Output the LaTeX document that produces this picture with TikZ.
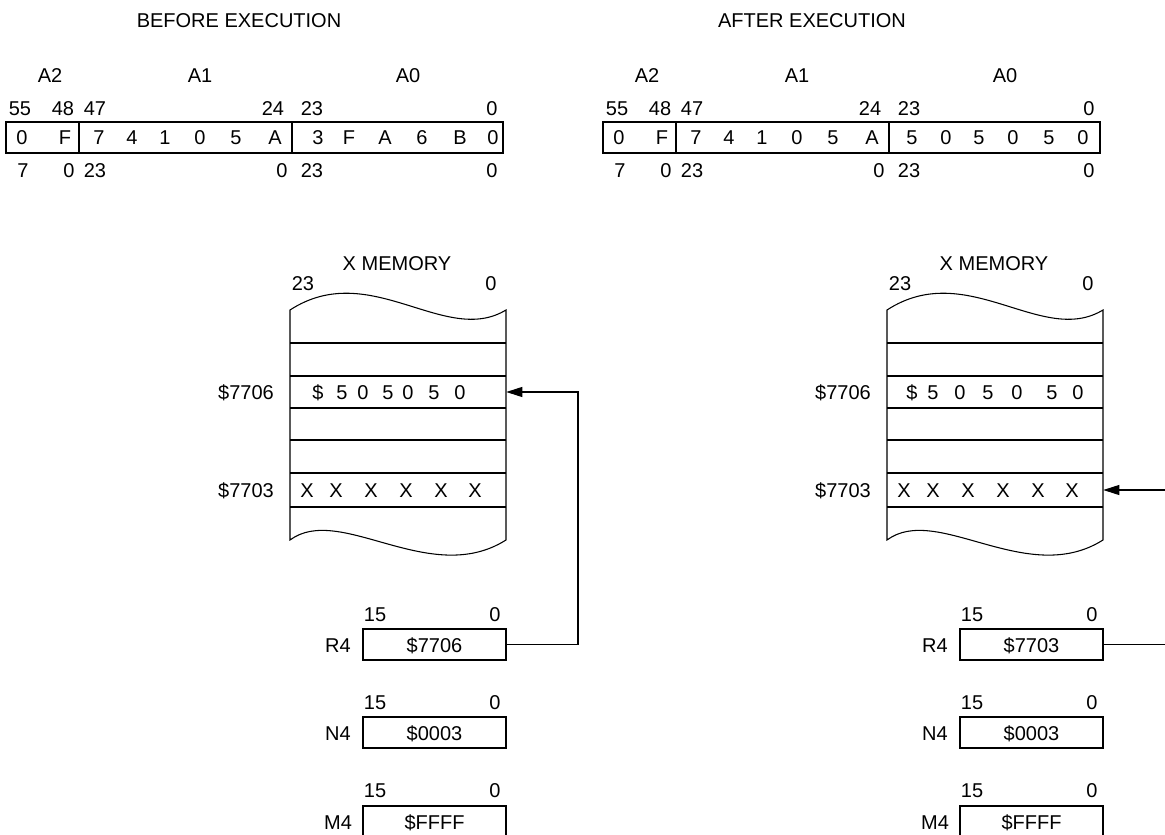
\documentclass[tikz,border=0pt]{standalone}
\usepackage{fontspec}
\setmainfont{Liberation Sans}
\usetikzlibrary{arrows.meta,fit}
\begin{document}
\begin{tikzpicture}[x=0.75pt,y=-0.75pt,
  every node/.style={font=\fontsize{15}{17}\selectfont},
  t/.style={inner sep=0pt, text height=10.7pt, text depth=0pt},
  cell/.style={draw, inner sep=0pt, line width=0.8pt},
  row/.style={inner sep=0pt},
  ln/.style={line width=0.8pt},
  arr/.style={line width=0.8pt, -{Triangle[length=12pt,width=7.5pt]}}]
\useasboundingbox (0,0) rectangle (1165,835);
\clip (0,0) rectangle (1165,835);

% titles
\node[t] (titleL) at (239,20) {BEFORE EXECUTION};
\node[t] (titleR) at (812,20) {AFTER EXECUTION};

% accumulators (shared parts)
\foreach \o/\s in {0/L,597/R} {
  \node[t] (lA2\s) at (50+\o,75) {A2};
  \node[t] (lA1\s) at (200+\o,75) {A1};
  \node[t] (lA0\s) at (408+\o,75) {A0};
  \node[t] (b55\s) at (20+\o,108) {55};
  \node[t] (b48\s) at (63+\o,108) {48};
  \node[t] (b47\s) at (95+\o,108) {47};
  \node[t] (b24\s) at (273+\o,108) {24};
  \node[t] (b23\s) at (312+\o,108) {23};
  \node[t] (b0\s) at (492+\o,108) {0};
  \node[t] (c7\s) at (23+\o,170) {7};
  \node[t] (c0a\s) at (69+\o,170) {0};
  \node[t] (c23a\s) at (95+\o,170) {23};
  \node[t] (c0b\s) at (282+\o,170) {0};
  \node[t] (c23b\s) at (312+\o,170) {23};
  \node[t] (c0c\s) at (492+\o,170) {0};
  \node[cell, fit={(6+\o,122)(79+\o,153)}] (a2\s) {};
  \node[cell, fit={(79+\o,122)(292+\o,153)}] (a1\s) {};
  \node[cell, fit={(292+\o,122)(503+\o,153)}] (a0\s) {};
  \node[t] (d1\s) at (22+\o,137.5) {0};
  \node[t] (d2\s) at (65+\o,137.5) {F};
  \node[t] (d3\s) at (99+\o,137.5) {7};
  \node[t] (d4\s) at (132+\o,137.5) {4};
  \node[t] (d5\s) at (165+\o,137.5) {1};
  \node[t] (d6\s) at (200+\o,137.5) {0};
  \node[t] (d7\s) at (236+\o,137.5) {5};
  \node[t] (d8\s) at (275+\o,137.5) {A};
}
% A0 contents
\node[t] (e1L) at (318,137.5) {3};
\node[t] (e2L) at (349,137.5) {F};
\node[t] (e3L) at (385,137.5) {A};
\node[t] (e4L) at (422,137.5) {6};
\node[t] (e5L) at (460,137.5) {B};
\node[t] (e6L) at (493,137.5) {0};
\node[t] (e1R) at (912,137.5) {5};
\node[t] (e2R) at (946,137.5) {0};
\node[t] (e3R) at (979,137.5) {5};
\node[t] (e4R) at (1013,137.5) {0};
\node[t] (e5R) at (1049,137.5) {5};
\node[t] (e6R) at (1083,137.5) {0};

% memories
\foreach \o/\s in {0/L,597/R} {
  \node[t] (xm\s) at (397+\o,263) {X MEMORY};
  \node[t] (x23\s) at (303+\o,283) {23};
  \node[t] (x0\s) at (491+\o,283) {0};
  \draw[ln] (290+\o,310) .. controls (370+\o,258) and (445+\o,347) .. (506+\o,310)
            -- (506+\o,540) .. controls (430+\o,588) and (340+\o,503) .. (290+\o,540) -- cycle;
  \foreach \yy in {343,376,408,440,473,507} {
    \draw[ln] (290+\o,\yy) -- (506+\o,\yy);
  }
  \node[row, fit={(290+\o,376)(506+\o,408)}] (m6\s) {};
  \node[row, fit={(290+\o,473)(506+\o,507)}] (m3\s) {};
  \node[t] (ad6\s) at (246+\o,392) {\$7706};
  \node[t] (ad3\s) at (246+\o,490) {\$7703};
  \node[t] (xa\s) at (307+\o,490) {X};
  \node[t] (xb\s) at (336+\o,490) {X};
  \node[t] (xc\s) at (371+\o,490) {X};
  \node[t] (xd\s) at (406+\o,490) {X};
  \node[t] (xe\s) at (441+\o,490) {X};
  \node[t] (xf\s) at (475+\o,490) {X};
}
% $505050 rows
\node[t] (v0L) at (318,392) {\$};
\node[t] (v1L) at (342,392) {5};
\node[t] (v2L) at (363,392) {0};
\node[t] (v3L) at (388,392) {5};
\node[t] (v4L) at (408,392) {0};
\node[t] (v5L) at (434,392) {5};
\node[t] (v6L) at (460,392) {0};
\node[t] (v0R) at (912,392) {\$};
\node[t] (v1R) at (933,392) {5};
\node[t] (v2R) at (960,392) {0};
\node[t] (v3R) at (988,392) {5};
\node[t] (v4R) at (1017,392) {0};
\node[t] (v5R) at (1052,392) {5};
\node[t] (v6R) at (1078,392) {0};

% address registers
\foreach \o/\s/\rv in {0/L/\$7706,597/R/\$7703} {
  \node[t] (r15\s) at (375+\o,614) {15};
  \node[t] (r0\s) at (495+\o,614) {0};
  \node[t] (rl\s) at (338+\o,645) {R4};
  \node[cell, fit={(363+\o,629)(506+\o,660)}] (r4\s) {};
  \node[t] (rv\s) at (434.5+\o,645) {\rv};
  \node[t] (n15\s) at (375+\o,702) {15};
  \node[t] (n0\s) at (495+\o,702) {0};
  \node[t] (nl\s) at (338+\o,733) {N4};
  \node[cell, fit={(363+\o,717)(506+\o,748)}] (n4\s) {};
  \node[t] (nv\s) at (434.5+\o,733) {\$0003};
  \node[t] (q15\s) at (375+\o,790) {15};
  \node[t] (q0\s) at (495+\o,790) {0};
  \node[t] (ql\s) at (338+\o,822) {M4};
  \node[cell, fit={(363+\o,806)(506+\o,838)}] (m4\s) {};
  \node[t] (qv\s) at (434.5+\o,822) {\$FFFF};
}

% pointers
\coordinate (cornerL) at (578,0);
\coordinate (cornerR) at (1185,0);
\draw[arr] (r4L.east) -- (r4L.east -| cornerL) |- (m6L.east);
\draw[arr] (r4R.east) -- (r4R.east -| cornerR) |- (m3R.east);
\end{tikzpicture}
\end{document}
